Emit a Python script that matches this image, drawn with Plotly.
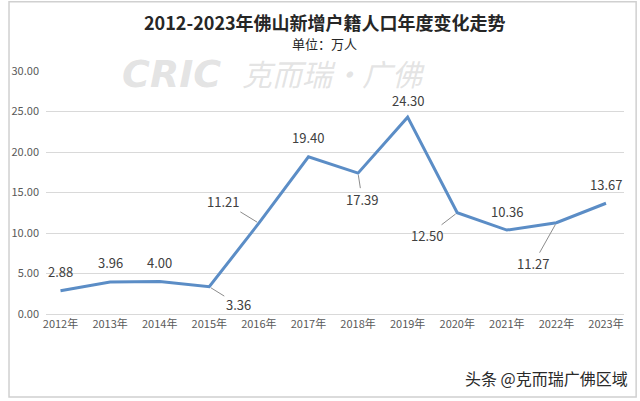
import plotly.graph_objects as go

years = ["2012年", "2013年", "2014年", "2015年", "2016年", "2017年",
         "2018年", "2019年", "2020年", "2021年", "2022年", "2023年"]
values = [2.88, 3.96, 4.00, 3.36, 11.21, 19.40, 17.39, 24.30, 12.50, 10.36, 11.27, 13.67]
y_ticks = [0, 5, 10, 15, 20, 25, 30]
title_text = "<b>2012-2023年佛山新增户籍人口年度变化走势</b>"
subtitle_text = "单位：万人"
watermark_logo = "<b><i>CRIC</i></b>"
watermark_cn = "<i>克而瑞·广佛</i>"
source_text = "头条 @克而瑞广佛区域"

# label placement: index -> leader line offset (px); others sit above the point
leader = {3: (29, 18), 4: (-36, -22), 6: (4, 26), 8: (-30, 23), 10: (-23, 41)}

FONT = "Noto Sans CJK SC"
LINE_COLOR = "#5B8DC6"
WM_COLOR = "rgba(185,185,185,0.4)"

fig = go.Figure()
fig.add_trace(go.Scatter(
    x=years, y=values, mode="lines",
    line=dict(color=LINE_COLOR, width=3),
    hoverinfo="x+y", showlegend=False,
))

annotations = []
for i, (yr, v) in enumerate(zip(years, values)):
    txt = f"{v:.2f}"
    if i in leader:
        ax, ay = leader[i]
        annotations.append(dict(
            x=yr, y=v, xref="x", yref="y", text=txt,
            showarrow=True, arrowhead=0, arrowwidth=1, arrowcolor="#8c8c8c",
            ax=ax, ay=ay, standoff=2,
            font=dict(family=FONT, size=13, color="#404040"),
        ))
    else:
        annotations.append(dict(
            x=yr, y=v, xref="x", yref="y", text=txt, showarrow=False,
            yshift=17 if i == 7 else 19,
            font=dict(family=FONT, size=13, color="#404040"),
        ))

# title & subtitle
annotations.append(dict(
    x=0.482, y=1.203, xref="paper", yref="paper", xanchor="center", yanchor="middle",
    text=title_text, showarrow=False,
    font=dict(family=FONT, size=18, color="#262626"),
))
annotations.append(dict(
    x=0.482, y=1.113, xref="paper", yref="paper", xanchor="center", yanchor="middle",
    text=subtitle_text, showarrow=False,
    font=dict(family=FONT, size=13, color="#262626"),
))
# watermark
annotations.append(dict(
    x=0.217, y=0.988, xref="paper", yref="paper", xanchor="center", yanchor="middle",
    text=watermark_logo, showarrow=False,
    font=dict(family="DejaVu Sans", size=38, color=WM_COLOR),
))
annotations.append(dict(
    x=0.336, y=0.99, xref="paper", yref="paper", xanchor="left", yanchor="middle",
    text=watermark_cn, showarrow=False,
    font=dict(family=FONT, size=30, color=WM_COLOR),
))
# source mark
annotations.append(dict(
    x=1.01, y=-0.263, xref="paper", yref="paper", xanchor="right", yanchor="middle",
    text=source_text, showarrow=False,
    font=dict(family=FONT, size=16, color="#2a2a2a"),
))

fig.update_layout(
    width=640, height=401,
    margin=dict(l=39, r=16, t=71, b=87),
    paper_bgcolor="white", plot_bgcolor="white",
    xaxis=dict(
        type="category", showgrid=False, showline=True, linecolor="#d9d9d9", linewidth=1,
        ticks="", tickfont=dict(family=FONT, size=11, color="#595959"),
        fixedrange=True,
    ),
    yaxis=dict(
        range=[0, 30], tickvals=y_ticks, tickformat=".2f",
        showgrid=True, gridcolor="#d9d9d9", gridwidth=1, zeroline=False,
        showline=False, ticks="", ticklabelstandoff=6,
        tickfont=dict(family=FONT, size=11, color="#595959"),
        fixedrange=True,
    ),
    annotations=annotations,
    shapes=[dict(
        type="rect", xref="paper", yref="paper",
        x0=-0.064, x1=1.021, y0=-0.342, y1=1.285,
        line=dict(color="#d0d0d0", width=1.5), fillcolor="rgba(0,0,0,0)", layer="below",
    )],
)

fig.write_html("out.html", config={"displayModeBar": False},
               post_script="document.body.style.margin='0';document.body.style.overflow='hidden';")
